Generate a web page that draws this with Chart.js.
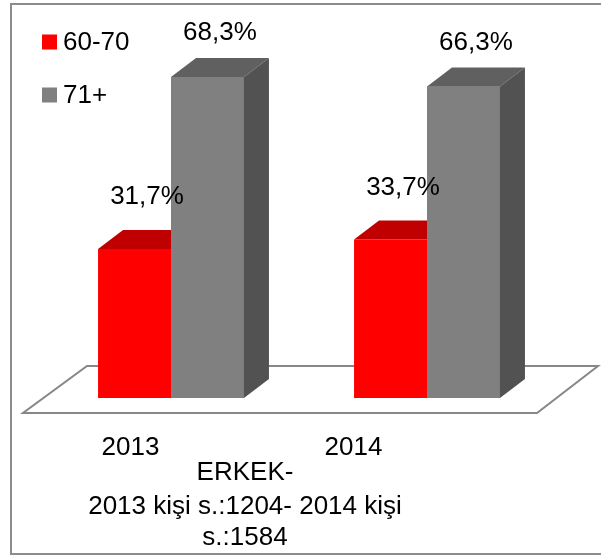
<!DOCTYPE html>
<html>
<head>
<meta charset="utf-8">
<script src="https://cdn.jsdelivr.net/npm/chart.js@4"></script>
<style>
  body { margin: 0; background: #fff; }
  #wrap { width: 601px; height: 557px; }
</style>
</head>
<body>
<div id="wrap"><canvas id="erkekChart"></canvas></div>
<script>
// data
const categories = ["2013", "2014"];
const seriesNames = ["60-70", "71+"];
const values6070 = [31.7, 33.7];
const values71 = [68.3, 66.3];
const titleLines = ["ERKEK-", "2013 kişi s.:1204- 2014 kişi", "s.:1584"];

const FONT = "26px 'Liberation Sans', Arial, sans-serif";
const DX = 25, DY = -19;               // bar depth
const topColors = ["#c00000", "#606060"];
const sideColors = ["#a00000", "#525252"];
const labelLift = [33, 25];
const tickStep = 223;                  // category spacing of the perspective floor labels

function fmt(v) {
    return v.toFixed(1).replace(".", ",") + "%";
}

// fake 3D: floor, top and side faces, labels
const bars3d = {
    id: "bars3d",
    beforeDatasetsDraw(chart) {
        const ctx = chart.ctx;
        const a = chart.chartArea;
        const base = chart.scales.y.getPixelForValue(0);
        ctx.save();
        // outer frame
        ctx.strokeStyle = "#8c8c8c";
        ctx.lineWidth = 2;
        ctx.strokeRect(11, 4, 620, 550);
        // floor
        ctx.beginPath();
        ctx.moveTo(a.left - 20, base + 15);
        ctx.lineTo(a.right - 18, base + 15);
        ctx.lineTo(a.right + 43, base - 32);
        ctx.lineTo(a.left + 44, base - 32);
        ctx.closePath();
        ctx.fillStyle = "#fff";
        ctx.fill();
        ctx.strokeStyle = "#878787";
        ctx.lineWidth = 2;
        ctx.stroke();
        ctx.restore();
    },
    afterDatasetsDraw(chart) {
        const ctx = chart.ctx;
        ctx.save();
        chart.data.datasets.forEach((ds, i) => {
            chart.getDatasetMeta(i).data.forEach(bar => {
                // later series sit in front of the earlier one's depth faces
                if (i > 0) bar.draw(ctx, chart.chartArea);
                const p = bar.getProps(["x", "y", "base", "width"], true);
                const l = p.x - p.width / 2, r = p.x + p.width / 2;
                ctx.fillStyle = topColors[i];
                ctx.beginPath();
                ctx.moveTo(l, p.y);
                ctx.lineTo(r, p.y);
                ctx.lineTo(r + DX, p.y + DY);
                ctx.lineTo(l + DX, p.y + DY);
                ctx.closePath();
                ctx.fill();
                ctx.fillStyle = sideColors[i];
                ctx.beginPath();
                ctx.moveTo(r, p.y);
                ctx.lineTo(r + DX, p.y + DY);
                ctx.lineTo(r + DX, p.base + DY);
                ctx.lineTo(r, p.base);
                ctx.closePath();
                ctx.fill();
            });
        });
        ctx.restore();
    },
    afterDraw(chart) {
        const ctx = chart.ctx;
        const a = chart.chartArea;
        const base = chart.scales.y.getPixelForValue(0);
        ctx.save();
        ctx.font = FONT;
        ctx.fillStyle = "#000";
        ctx.textBaseline = "middle";
        ctx.textAlign = "center";

        // value labels
        chart.data.datasets.forEach((ds, i) => {
            chart.getDatasetMeta(i).data.forEach((bar, j) => {
                ctx.fillText(fmt(ds.data[j]), bar.x + DX / 2, bar.y + DY - labelLift[i]);
            });
        });

        // category labels below the floor
        categories.forEach((c, j) => {
            ctx.fillText(c, a.left - 24 + tickStep * (j + 0.5), base + 50);
        });

        // axis title
        const ty = [473, 507, 538];
        titleLines.forEach((t, k) => ctx.fillText(t, 245, ty[k]));

        // legend
        ctx.textAlign = "left";
        chart.data.datasets.forEach((ds, i) => {
            const cy = 42 + i * 53;
            ctx.fillStyle = ds.backgroundColor;
            ctx.fillRect(42, cy - 7.5, 15, 15);
            ctx.fillStyle = "#000";
            ctx.fillText(ds.label, 63, cy + 1);
        });
        ctx.restore();
    }
};

new Chart(document.getElementById("erkekChart"), {
    type: "bar",
    data: {
        labels: categories,
        datasets: [
            {
                label: seriesNames[0],
                data: values6070,
                backgroundColor: "#ff0000",
                borderWidth: 0
            },
            {
                label: seriesNames[1],
                data: values71,
                backgroundColor: "#808080",
                borderWidth: 0
            }
        ]
    },
    options: {
        responsive: true,
        maintainAspectRatio: false,
        animation: false,
        categoryPercentage: 0.57,
        barPercentage: 1,
        layout: {
            padding: { left: 43, right: 46, top: 22, bottom: 159 }
        },
        plugins: {
            legend: { display: false },
            tooltip: { enabled: false }
        },
        scales: {
            x: { display: false },
            y: { display: false, min: 0, max: 80 }
        }
    },
    plugins: [bars3d]
});
</script>
</body>
</html>
